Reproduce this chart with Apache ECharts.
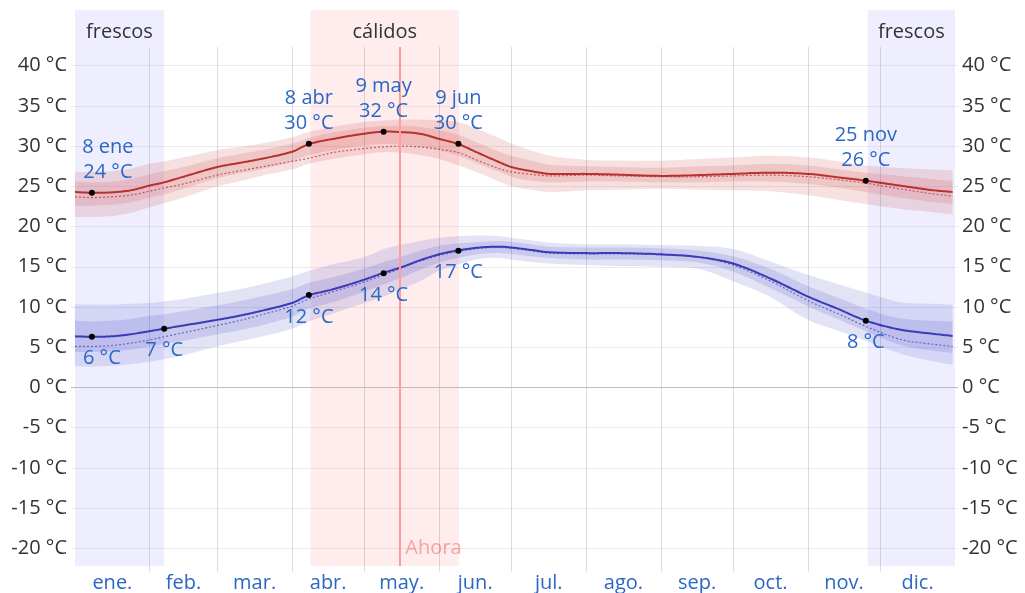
<!DOCTYPE html>
<html><head><meta charset="utf-8">
<script src="https://cdn.jsdelivr.net/npm/echarts@6/dist/echarts.min.js"></script>
<style>html,body{margin:0;padding:0;background:#fff}#c{width:1025px;height:593px}</style>
</head><body><div id="c"></div>
<script>
// ---- data ----
const monthNames = ['ene.','feb.','mar.','abr.','may.','jun.','jul.','ago.','sep.','oct.','nov.','dic.'];
const monthStarts = [0,31,59,90,120,151,181,212,243,273,304,334,365];
const yTicks = [-20,-15,-10,-5,0,5,10,15,20,25,30,35,40];

const days   = [0,7,15,23,31,37,45,59,68,77,90,97,107,120,128,135,143,151,159,168,176,181,189,197,212,226,243,259,273,288,304,317,328,342,355,364];

const hiMean = [24.3,24.2,24.25,24.5,25.1,25.5,26.2,27.4,27.9,28.4,29.3,30.25,30.9,31.55,31.8,31.75,31.55,30.9,30.25,29.05,28.0,27.4,26.9,26.55,26.55,26.45,26.3,26.4,26.55,26.7,26.55,26.1,25.7,25.1,24.55,24.3];
const hiP90  = [26.8,26.8,26.9,27.2,27.8,28.1,28.6,29.5,29.9,30.3,31.1,31.75,32.4,33.0,33.2,33.3,33.3,33.2,33.0,32.0,31.0,30.3,29.5,28.8,28.3,28.2,28.2,28.4,28.6,28.8,28.6,28.1,27.6,27.3,27.1,27.0];
const hiP10  = [21.2,21.2,21.3,21.7,22.4,22.9,23.6,25.0,25.6,26.3,27.1,27.8,28.4,29.0,29.25,29.2,28.9,28.4,27.6,26.6,25.6,25.0,24.6,24.3,24.5,24.6,24.7,24.6,24.5,24.4,23.9,23.3,22.8,22.2,21.8,21.5];
const hiP75  = [25.6,25.5,25.6,25.9,26.5,26.9,27.4,28.5,29.0,29.5,30.3,31.0,31.7,32.3,32.5,32.5,32.4,32.0,31.4,30.3,29.3,28.8,28.2,27.7,27.5,27.4,27.3,27.5,27.6,27.8,27.6,27.1,26.7,26.3,25.9,25.7];
const hiP25  = [22.6,22.6,22.7,23.0,23.6,24.0,24.7,26.0,26.6,27.1,28.1,28.9,29.5,30.1,30.3,30.2,30.0,29.5,28.8,27.7,26.8,26.2,25.7,25.5,25.6,25.6,25.5,25.5,25.6,25.6,25.3,24.8,24.3,23.6,23.1,22.8];
const hiDot  = [23.7,23.6,23.7,23.9,24.4,24.8,25.3,26.4,26.9,27.4,28.1,28.5,29.2,29.7,29.9,30.0,29.9,29.6,29.2,28.1,27.2,26.8,26.5,26.3,26.4,26.3,26.2,26.2,26.3,26.4,26.2,25.8,25.4,24.7,24.1,23.8];

const loMean = [6.35,6.3,6.35,6.6,7.0,7.3,7.7,8.4,8.9,9.5,10.5,11.45,12.2,13.4,14.25,14.9,15.8,16.55,17.05,17.4,17.5,17.4,17.1,16.8,16.7,16.7,16.55,16.2,15.4,13.6,11.3,9.7,8.3,7.2,6.7,6.4];
const loP90  = [10.3,10.3,10.3,10.4,10.5,10.7,11.0,11.75,12.2,12.8,13.8,14.5,15.3,16.2,17.2,17.7,18.2,18.6,18.8,18.9,18.8,18.6,18.3,18.0,17.8,17.8,17.7,17.6,17.2,15.7,14.0,12.8,11.8,10.6,10.4,10.3];
const loP10  = [2.6,2.6,2.7,2.9,3.2,3.5,4.0,5.1,5.7,6.3,7.3,8.2,9.2,10.5,11.3,12.2,13.2,14.5,15.3,16.0,16.1,15.9,15.6,15.4,15.2,15.1,15.0,14.7,13.2,11.3,8.4,7.0,5.8,4.25,3.3,2.8];
const loP75  = [8.3,8.2,8.3,8.5,8.9,9.1,9.5,10.2,10.7,11.3,12.2,13.0,13.7,14.8,15.6,16.2,17.0,17.6,17.9,18.1,18.2,18.1,17.8,17.5,17.4,17.4,17.3,17.0,16.3,14.8,12.6,11.1,9.8,8.6,8.3,8.2];
const loP25  = [4.4,4.4,4.5,4.7,5.1,5.4,5.8,6.6,7.1,7.7,8.8,9.8,10.6,11.9,12.8,13.6,14.6,15.5,16.1,16.6,16.7,16.6,16.3,16.1,15.9,15.9,15.8,15.5,14.4,12.4,10.1,8.4,7.0,5.3,4.6,4.3];
const loDot  = [5.1,5.1,5.2,5.5,5.9,6.3,6.8,7.7,8.3,9.0,10.1,11.0,11.9,13.1,14.0,14.8,15.7,16.4,16.9,17.3,17.4,17.3,17.0,16.7,16.6,16.6,16.5,16.2,15.2,13.3,10.8,9.1,7.6,6.0,5.4,5.1];

const hiMarks = [[7,24.2,'8 ene'],[97,30.3,'8 abr'],[128,31.8,'9 may'],[159,30.3,'9 jun'],[328,25.7,'25 nov']];
const loMarks = [[7,6.3],[37,7.3],[97,11.5],[128,14.2],[159,17.0],[328,8.3]];

const coolPeriods = [[0,36.9],[328.8,365]];
const warmPeriods = [[97.7,159.3]];
const nowDay = 134.5;

// ---- build ----
const FONT = 'Open Sans';
const BLUE_TXT = '#2b67c6';
const mids = monthStarts.slice(0,-1).map((s,i)=>(s+monthStarts[i+1])/2);

// smooth drawing of a pixel polyline (cubic Hermite in x)
function smoothPts(pts){
  const n = pts.length, out = [];
  const slope = (i) => {
    const a = pts[Math.max(0,i-1)], b = pts[Math.min(n-1,i+1)];
    return (b[1]-a[1])/((b[0]-a[0])||1);
  };
  for (let i=0;i<n-1;i++){
    const p0=pts[i], p1=pts[i+1], h=p1[0]-p0[0];
    const m0=slope(i)*h, m1=slope(i+1)*h;
    for (let k=0;k<12;k++){
      const t=k/12, t2=t*t, t3=t2*t;
      const y=(2*t3-3*t2+1)*p0[1]+(t3-2*t2+t)*m0+(-2*t3+3*t2)*p1[1]+(t3-t2)*m1;
      out.push([p0[0]+h*t, y]);
    }
  }
  out.push(pts[n-1]);
  return out;
}
function band(lower, upper, color){
  return {type:'custom', xAxisIndex:2, yAxisIndex:2, silent:true, data:[[days[0], lower[0]]],
    renderItem:(params, api)=>{
      const up = smoothPts(days.map((d,i)=>api.coord([d, upper[i]])));
      const lo = smoothPts(days.map((d,i)=>api.coord([d, lower[i]]))).reverse();
      return {type:'polygon', shape:{points:up.concat(lo)}, style:{fill:color}};
    }};
}
function line(arr, color, width, dash){
  return {type:'custom', xAxisIndex:2, yAxisIndex:2, silent:true, data:[[days[0], arr[0]]],
    renderItem:(params, api)=>{
      const pts = smoothPts(days.map((d,i)=>api.coord([d, arr[i]])));
      return {type:'polyline', shape:{points:pts}, style:{stroke:color, lineWidth:width, fill:null, lineDash:dash||null}};
    }};
}

const option = {
  animation:false,
  textStyle:{fontFamily:FONT},
  grid:[
    {left:75, right:70, top:10, bottom:27},
    {left:75, right:70, top:47, bottom:20},
    {left:71, right:67, top:65.7, bottom:44.7},
    {left:75, right:70, top:47, bottom:27}
  ],
  xAxis:[
    {gridIndex:0, type:'value', min:0, max:365, show:false},
    {gridIndex:1, type:'value', min:0, max:365, axisLine:{show:false}, axisTick:{show:false}, splitLine:{show:false},
      axisLabel:{customValues:mids, margin:1, color:BLUE_TXT, fontSize:20, fontFamily:FONT,
        formatter:(v)=>{const i=mids.indexOf(v); return i>=0?monthNames[i]:'';}}},
    {gridIndex:2, type:'value', min:-1.66, max:366.24, show:false},
    {gridIndex:3, type:'value', min:0, max:365, show:false}
  ],
  yAxis:[
    {gridIndex:0, type:'value', min:0, max:1, show:false},
    {gridIndex:1, type:'value', min:0, max:1, show:false},
    {gridIndex:2, type:'value', min:yTicks[0], max:yTicks[yTicks.length-1], interval:5, position:'left',
      axisLine:{show:false}, axisTick:{show:false},
      splitLine:{lineStyle:{color:'#ebebeb', width:1}},
      axisLabel:{formatter:'{value} °C', color:'#333', fontSize:20, margin:4, fontFamily:FONT}},
    {gridIndex:2, type:'value', min:yTicks[0], max:yTicks[yTicks.length-1], interval:5, position:'right',
      axisLine:{show:false}, axisTick:{show:false}, splitLine:{show:false},
      axisLabel:{formatter:'{value} °C', color:'#333', fontSize:20, margin:4, fontFamily:FONT}},
    {gridIndex:3, type:'value', min:0, max:1, show:false}
  ],
  series:[
    // background periods
    {type:'line', xAxisIndex:0, yAxisIndex:0, data:[[0,0]], symbol:'none', silent:true, lineStyle:{opacity:0},
      markArea:{silent:true, data:[
        ...coolPeriods.map(p=>[{xAxis:p[0], name:'frescos', itemStyle:{color:'rgba(170,170,255,0.2)'}},{xAxis:p[1]}]),
        ...warmPeriods.map(p=>[{xAxis:p[0], name:'cálidos', itemStyle:{color:'rgba(255,160,160,0.2)'}},{xAxis:p[1]}])
      ], label:{show:true, position:'insideTop', distance:10, color:'#333', fontSize:20, fontFamily:FONT, lineHeight:24}}},
    // month lines
    {type:'line', xAxisIndex:1, yAxisIndex:1, data:[[0,0]], symbol:'none', silent:true, lineStyle:{opacity:0},
      markLine:{silent:true, symbol:'none', label:{show:false},
        lineStyle:{color:'rgba(0,0,0,0.13)', width:1, type:'solid'},
        data:monthStarts.slice(1,-1).map(d=>({xAxis:d}))}},
    // now line
    {type:'line', xAxisIndex:3, yAxisIndex:4, data:[[0,0]], symbol:'none', silent:true, lineStyle:{opacity:0},
      markLine:{silent:true, symbol:'none', label:{show:false},
        lineStyle:{color:'#ff9c9c', width:2, type:'solid'},
        data:[{xAxis:nowDay}]}},
    // zero line
    {type:'line', xAxisIndex:2, yAxisIndex:2, data:[[0,0]], symbol:'none', silent:true, lineStyle:{opacity:0},
      markLine:{silent:true, symbol:'none', label:{show:false},
        lineStyle:{color:'#bdbdbd', width:1, type:'solid'}, data:[{yAxis:0}]}},
    band(hiP10, hiP90, 'rgba(200,60,60,0.16)'),
    band(hiP25, hiP75, 'rgba(200,60,60,0.16)'),
    band(loP10, loP90, 'rgba(80,80,200,0.16)'),
    band(loP25, loP75, 'rgba(80,80,200,0.17)'),
    line(hiDot, 'rgba(190,50,50,0.75)', 1.2, [2,2]),
    line(loDot, 'rgba(70,70,190,0.75)', 1.2, [2,2]),
    line(hiMean, '#b8312f', 2),
    line(loMean, '#3b3bb8', 2),
    // marks
    {type:'scatter', xAxisIndex:2, yAxisIndex:2, symbolSize:6, itemStyle:{color:'#000', opacity:1}, silent:true, z:5,
      data:hiMarks.map(m=>({value:[m[0],m[1]], label:{
        offset:[m[0]<15?16:0,0],
        formatter:m[2]+'\n'+Math.round(m[1])+' °C'}})),
      label:{show:true, position:'top', distance:5, color:BLUE_TXT, fontSize:20, lineHeight:25, fontFamily:FONT}},
    {type:'scatter', xAxisIndex:2, yAxisIndex:2, symbolSize:6, itemStyle:{color:'#000', opacity:1}, silent:true, z:5,
      data:loMarks.map(m=>({value:[m[0],m[1]], label:{
        offset:[m[0]<15?10:0,0],
        formatter:Math.round(m[1])+' °C'}})),
      label:{show:true, position:'bottom', distance:7, color:BLUE_TXT, fontSize:20, lineHeight:24, fontFamily:FONT}},
    // now label
    {type:'scatter', xAxisIndex:2, yAxisIndex:2, symbolSize:0, silent:true, clip:false,
      data:[[nowDay, yTicks[0]]],
      label:{show:true, position:'right', distance:6, formatter:'Ahora', color:'#f59090', fontSize:20, fontFamily:FONT}}
  ]
};
echarts.init(document.getElementById('c')).setOption(option);
</script>
</body></html>
